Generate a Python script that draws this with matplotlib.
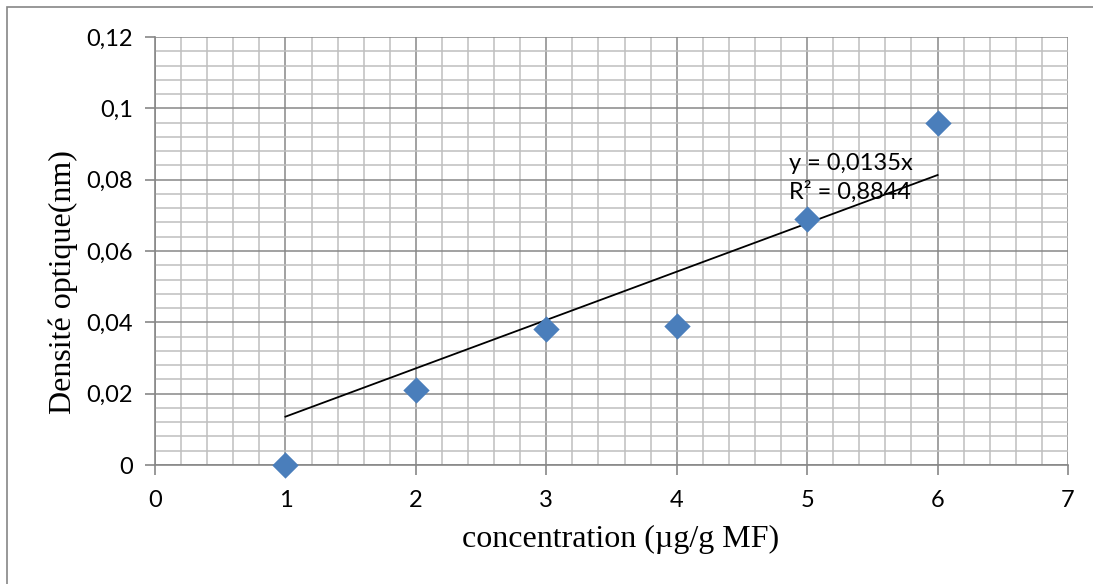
import numpy as np
import matplotlib
matplotlib.use('Agg')
import matplotlib.pyplot as plt
from matplotlib.ticker import FuncFormatter, MultipleLocator
from matplotlib.patches import Rectangle

# data
concentration = [1, 2, 3, 4, 5, 6]
densite = [0.0, 0.021, 0.038, 0.039, 0.069, 0.096]

x_ticks = [0, 1, 2, 3, 4, 5, 6, 7]
y_ticks = [0, 0.02, 0.04, 0.06, 0.08, 0.1, 0.12]


def comma(x, pos):
    'French decimal comma'
    s = ('%g' % round(x, 4))
    return s.replace('.', ',')


fig = plt.figure(figsize=(10.93, 5.84), dpi=100)
ax = fig.add_axes([155 / 1093, 1 - 465 / 584, 913 / 1093, 428 / 584])

# outer chart frame
fig.patches.append(Rectangle((7 / 1093, -0.1), 1.2, 1 - 7 / 584 + 0.1, transform=fig.transFigure,
                             fill=False, edgecolor='#868686', linewidth=1.2))

ax.scatter(concentration, densite, marker='D', s=180, color='#4a7ebb', zorder=4, linewidths=0,
           clip_on=False)

# linear trend through origin
x = np.array(concentration)
y = np.array(densite)
slope = np.sum(x * y) / np.sum(x * x)
xs = np.array([x.min(), x.max()])
ax.plot(xs, slope * xs, color='black', linewidth=1.3, zorder=3)

ax.text(4.86, 0.0875, 'y = 0,0135x\nR² = 0,8844', fontsize=17, family='Lato',
        linespacing=1.4, va='top', zorder=5)

ax.set_xlim(0, 7)
ax.set_ylim(0, 0.12)
ax.set_xticks(x_ticks)
ax.set_yticks(y_ticks)
ax.xaxis.set_minor_locator(MultipleLocator(0.2))
ax.yaxis.set_minor_locator(MultipleLocator(0.004))
ax.yaxis.set_major_formatter(FuncFormatter(comma))

ax.grid(True, which='minor', color='#bfbfbf', linewidth=1.1, zorder=0)
ax.grid(True, which='major', color='#878787', linewidth=1.1, zorder=1)
ax.set_axisbelow(True)

for side in ['top', 'right']:
    ax.spines[side].set_visible(False)
for side in ['left', 'bottom']:
    ax.spines[side].set_color('#878787')
    ax.spines[side].set_linewidth(1.2)

ax.tick_params(which='major', direction='out', length=7, color='#878787', width=1.2,
               labelsize=17, pad=9)
ax.tick_params(axis='x', which='major', pad=11)
ax.tick_params(which='minor', length=0)
for lab in ax.get_xticklabels() + ax.get_yticklabels():
    lab.set_family('Lato')

ax.set_xlabel('concentration (µg/g MF)', family='Liberation Serif', fontsize=23, labelpad=10)
ax.xaxis.label.set_x(0.51)
ax.set_ylabel('Densité optique(nm)', family='Liberation Serif', fontsize=23)
ax.yaxis.set_label_coords(-0.0845, 0.428)

plt.savefig('out.png', dpi=100)
